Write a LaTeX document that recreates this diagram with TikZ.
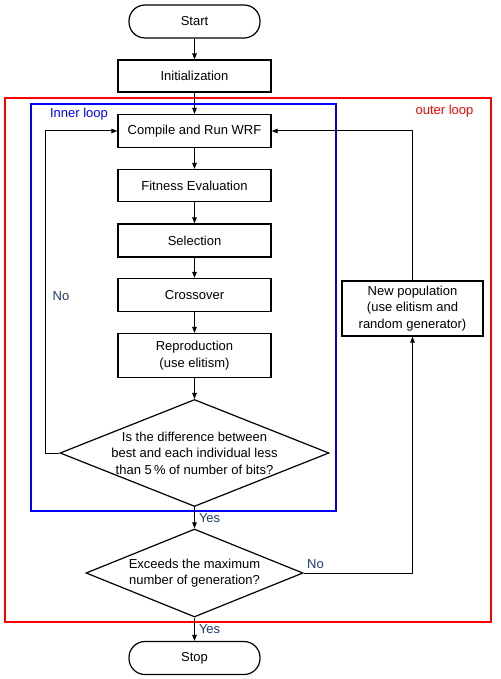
\documentclass[tikz,border=0pt]{standalone}
\usepackage{fontspec}
\setmainfont{Liberation Sans}
\usetikzlibrary{shapes.geometric,arrows.meta}
\definecolor{navy}{RGB}{31,56,110}
\begin{document}
\begin{tikzpicture}[x=1pt,y=-1pt,
  font=\fontsize{13}{16.6}\selectfont,
  box/.style={draw,line width=1.2pt,minimum width=153pt,minimum height=32pt,inner sep=0pt,align=center},
  term/.style={draw,line width=1.2pt,rounded corners=16pt,minimum width=131pt,minimum height=33pt,inner sep=0pt},
  decision/.style={draw,diamond,line width=1.2pt,inner sep=0pt},
  arr/.style={-{Stealth[length=6pt,width=4.5pt,inset=0pt]},line width=1pt},
  lab/.style={text=navy,inner sep=0pt},
  frame/.style={draw,line width=1.6pt,inner sep=0pt}]
\useasboundingbox (0,0) rectangle (500,679);

% loop frames
\node[frame,draw=red,minimum width=486pt,minimum height=524pt] (outer) at (248,360) {};
\node[frame,draw=blue,minimum width=305pt,minimum height=407pt] (inner) at (183.5,307.5) {};
\node[text=blue,inner sep=0pt] (innerlab) at (79,114) {Inner loop};
\node[text=red,inner sep=0pt] (outerlab) at (444.5,111) {outer loop};

% nodes
\node[term] (start) at (194.5,21.5) {Start};
\node[box] (init) at (194.5,76) {Initialization};
\node[box,minimum height=33pt] (wrf) at (194.5,131) {Compile and Run WRF};
\node[box] (fit) at (194.5,185.5) {Fitness Evaluation};
\node[box,minimum height=33pt] (sel) at (194.5,240.5) {Selection};
\node[box,minimum height=33pt] (cross) at (194.5,295) {Crossover};
\node[box,minimum height=44pt] (repro) at (194.5,355.5) {Reproduction\\(use elitism)};
\node[decision,minimum width=269pt,minimum height=107pt] (d1) at (194.5,453) {};
\node[align=center,inner sep=0pt] (d1t) at (194.5,453) {Is the difference between\\best and each individual less\\than 5\,\% of number of bits?};
\node[decision,minimum width=217pt,minimum height=88pt] (d2) at (194.5,573) {};
\node[align=center,inner sep=0pt] (d2t) at (194.5,573) {Exceeds the maximum\\number of generation?};
\node[term] (stop) at (194.5,658) {Stop};
\node[box,minimum width=141pt,minimum height=55pt] (newpop) at (412.5,308.5) {New population\\(use elitism and\\random generator)};

% connectors
\draw[arr] (start) -- (init);
\draw[arr] (init) -- (wrf);
\draw[arr] (wrf) -- (fit);
\draw[arr] (fit) -- (sel);
\draw[arr] (sel) -- (cross);
\draw[arr] (cross) -- (repro);
\draw[arr] (repro) -- (d1.north);
\draw[arr] (d1.south) -- node[lab,right=4pt] (yes1) {Yes} (d2.north);
\draw[arr] (d2.south) -- node[lab,right=4pt] (yes2) {Yes} (stop);
\draw[arr] (d1.west) -- ++(-14,0) |- (wrf.west);
\node[lab] (no1) at (61,296) {No};
\draw[arr] (d2.east) -| (newpop.south);
\node[lab] (no2) at (315.5,564) {No};
\draw[arr] (newpop.north) |- (wrf.east);
\end{tikzpicture}
\end{document}
